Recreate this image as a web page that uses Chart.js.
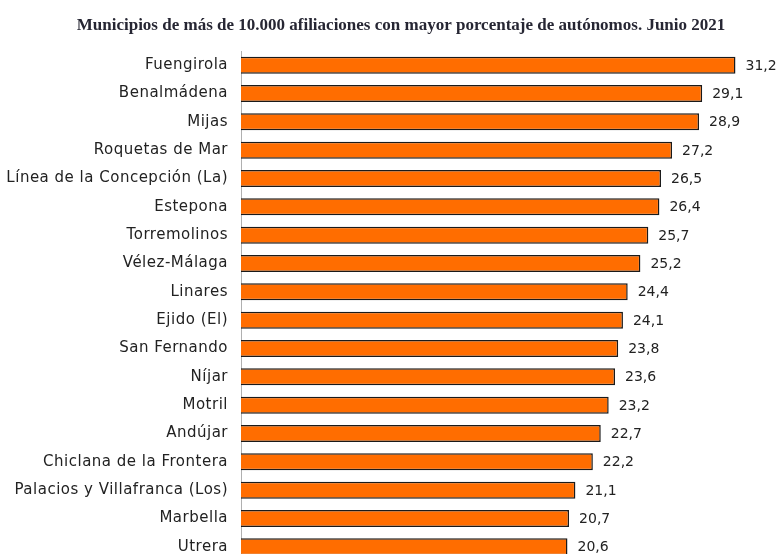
<!DOCTYPE html>
<html>
<head>
<meta charset="utf-8">
<script src="https://cdn.jsdelivr.net/npm/chart.js@4/dist/chart.umd.min.js"></script>
<style>
  html, body { margin: 0; padding: 0; background: #fff; overflow: hidden; }
  canvas { display: block; }
</style>
</head>
<body>
<canvas id="c" width="777" height="562"></canvas>
<script>
const titleText = 'Municipios de más de 10.000 afiliaciones con mayor porcentaje de autónomos. Junio 2021';
const categories = [
  'Fuengirola', 'Benalmádena', 'Mijas', 'Roquetas de Mar', 'Línea de la Concepción (La)',
  'Estepona', 'Torremolinos', 'Vélez-Málaga', 'Linares', 'Ejido (El)', 'San Fernando',
  'Níjar', 'Motril', 'Andújar', 'Chiclana de la Frontera', 'Palacios y Villafranca (Los)',
  'Marbella', 'Utrera'
];
const values = [31.2, 29.1, 28.9, 27.2, 26.5, 26.4, 25.7, 25.2, 24.4, 24.1, 23.8, 23.6, 23.2, 22.7, 22.2, 21.1, 20.7, 20.6];

const spacing = {
  id: 'spacing',
  beforeDraw(chart) { chart.ctx.letterSpacing = '0.5px'; },
  afterDraw(chart) { chart.ctx.letterSpacing = '0px'; }
};

const titleDraw = {
  id: 'titleDraw',
  afterDraw(chart) {
    const ctx = chart.ctx;
    ctx.save();
    ctx.letterSpacing = '0px';
    ctx.font = 'bold 17px "Liberation Serif"';
    ctx.fillStyle = '#262633';
    ctx.textAlign = 'center';
    ctx.textBaseline = 'alphabetic';
    ctx.fillText(titleText, 401, 30);
    ctx.restore();
  }
};

const valueLabels = {
  id: 'valueLabels',
  afterDatasetsDraw(chart) {
    const ctx = chart.ctx;
    const meta = chart.getDatasetMeta(0);
    ctx.save();
    ctx.letterSpacing = '0px';
    ctx.font = '14px "DejaVu Sans"';
    ctx.fillStyle = '#222';
    ctx.textAlign = 'left';
    ctx.textBaseline = 'middle';
    meta.data.forEach((bar, i) => {
      ctx.fillText(values[i].toFixed(1).replace('.', ','), bar.x + 10, bar.y + 1);
    });
    ctx.restore();
  }
};

new Chart(document.getElementById('c'), {
  type: 'bar',
  data: {
    labels: categories,
    datasets: [{
      data: values,
      backgroundColor: '#FF6D00',
      borderColor: '#1a1a1a',
      borderWidth: 1.5,
      borderSkipped: 'start',
      categoryPercentage: 1,
      barPercentage: 0.6
    }]
  },
  options: {
    indexAxis: 'y',
    responsive: false,
    animation: false,
    layout: { padding: { left: 0, right: 13, top: 51, bottom: 1 } },
    plugins: {
      legend: { display: false },
      tooltip: { enabled: false },
      title: { display: false }
    },
    scales: {
      x: { display: false, min: 0, max: 33 },
      y: {
        afterFit(scale) {
          scale.width = 241;
          scale.paddingTop = 0;
          scale.paddingBottom = 0;
        },
        grid: { display: false, drawTicks: false },
        border: { display: true, color: '#b0b0b0', width: 1 },
        ticks: {
          color: '#222',
          padding: 13,
          autoSkip: false,
          font: { family: '"DejaVu Sans"', size: 15 }
        }
      }
    }
  },
  plugins: [spacing, valueLabels, titleDraw]
});
</script>
</body>
</html>
